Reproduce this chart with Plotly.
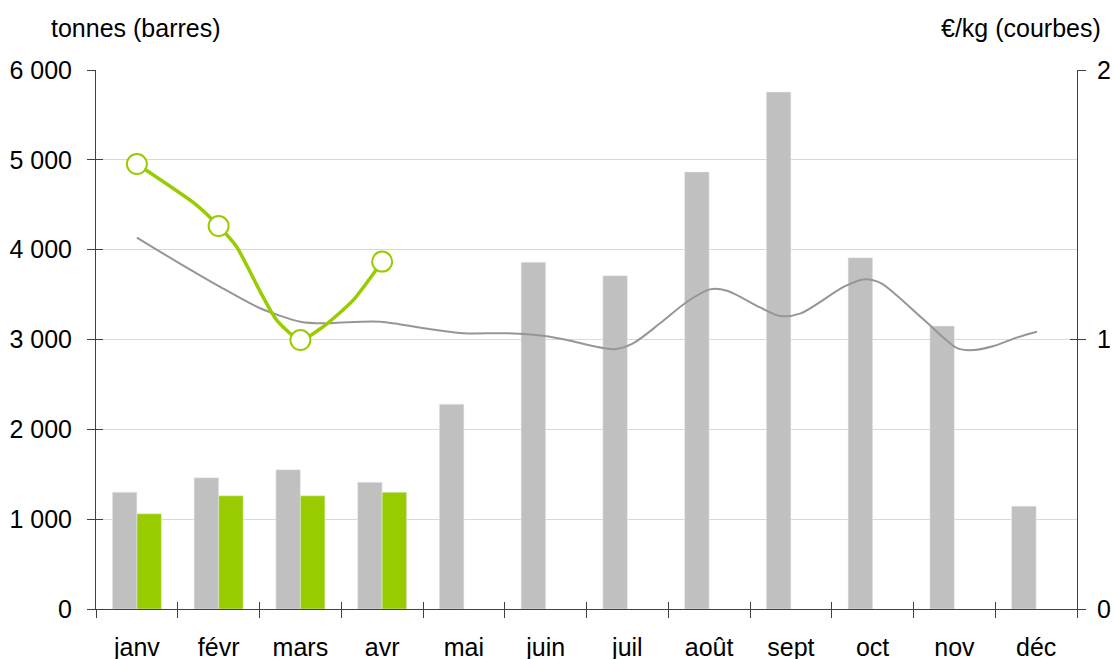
import plotly.graph_objects as go

months = ["janv", "févr", "mars", "avr", "mai", "juin", "juil", "août", "sept", "oct", "nov", "déc"]
tonnes_prev = [1300, 1460, 1550, 1410, 2280, 3860, 3710, 4865, 5755, 3910, 3150, 1145]
tonnes_curr = [1060, 1260, 1260, 1300]

# price curves (€/kg), position in month index units
price_prev_x = [0.0, 0.48, 0.98, 1.5, 2.0, 2.28, 2.49, 2.98, 3.59, 4.0, 4.53, 4.97, 5.26, 5.83,
                6.07, 6.4, 6.73, 7.01, 7.22, 7.63, 7.87, 8.12, 8.65, 8.89, 9.10, 9.63, 10.04,
                10.24, 10.48, 10.77, 11.01]
price_prev_y = [1.378, 1.29, 1.202, 1.117, 1.066, 1.060, 1.063, 1.066, 1.038, 1.023, 1.023, 1.014,
                0.998, 0.964, 0.986, 1.060, 1.140, 1.186, 1.181, 1.118, 1.087, 1.097, 1.196, 1.223,
                1.209, 1.072, 0.967, 0.961, 0.976, 1.008, 1.029]

price_curr_x = [0.0, 0.73, 1.0, 1.22, 1.51, 1.71, 2.0, 2.28, 2.65, 3.0]
price_curr_y = [1.651, 1.499, 1.421, 1.344, 1.177, 1.072, 0.998, 1.048, 1.147, 1.289]

price_curr_month_x = [0, 1, 2, 3]
price_curr_month_y = [1.651, 1.421, 0.998, 1.289]

GREEN = "#99CC00"
GREY_BAR = "#C0C0C0"
GREY_LINE = "#969696"
AXIS = "#404040"
FONT = "Liberation Sans, Arial, sans-serif"
FS = 25

fig = go.Figure()
fig.add_trace(go.Bar(x=months, y=tonnes_prev, marker_color=GREY_BAR, name="prev",
                     xaxis="x", yaxis="y"))
fig.add_trace(go.Bar(x=months[:len(tonnes_curr)], y=tonnes_curr, marker_color=GREEN, name="curr",
                     xaxis="x", yaxis="y"))
fig.add_trace(go.Scatter(x=price_prev_x, y=price_prev_y, mode="lines",
                         line=dict(color=GREY_LINE, width=2, shape="spline", smoothing=0.8),
                         xaxis="x2", yaxis="y2"))
fig.add_trace(go.Scatter(x=price_curr_x, y=price_curr_y, mode="lines",
                         line=dict(color=GREEN, width=3.5, shape="spline", smoothing=0.6),
                         xaxis="x2", yaxis="y2"))
fig.add_trace(go.Scatter(x=price_curr_month_x, y=price_curr_month_y, mode="markers",
                         marker=dict(size=20, color="white", line=dict(color=GREEN, width=2)),
                         xaxis="x2", yaxis="y2"))
# dummy traces so overlay tick axes render
fig.add_trace(go.Scatter(x=[None], y=[None], xaxis="x2", yaxis="y3"))
fig.add_trace(go.Scatter(x=[None], y=[None], xaxis="x2", yaxis="y4"))

n = len(months)
boundaries = [i - 0.5 for i in range(n + 1)]

fig.update_layout(
    width=1113, height=659,
    margin=dict(l=96, r=36, t=70, b=50, autoexpand=False),
    plot_bgcolor="white", paper_bgcolor="white",
    showlegend=False,
    barmode="group", bargap=0.4, bargroupgap=0,
    separators=", ",
    font=dict(family=FONT, size=FS, color="black"),
    xaxis=dict(type="category", categoryorder="array", categoryarray=months,
               tickson="boundaries", ticks="outside", ticklen=8, tickcolor=AXIS,
               showline=True, linecolor=AXIS, linewidth=1, showgrid=False,
               ticklabelstandoff=16, tickfont=dict(size=FS), automargin=False),
    xaxis2=dict(overlaying="x", range=[-0.5, n - 0.5], showticklabels=False,
                tickmode="array", tickvals=boundaries, ticks="inside", ticklen=7,
                tickcolor=AXIS, showgrid=False, showline=False, zeroline=False,
                automargin=False),
    yaxis=dict(range=[0, 6000], dtick=1000, tickformat=",d", showgrid=True,
               gridcolor="#D9D9D9", gridwidth=1, ticks="outside", ticklen=8,
               tickcolor=AXIS, showline=True, linecolor=AXIS, linewidth=1,
               zeroline=False, ticklabelstandoff=10, automargin=False),
    yaxis2=dict(overlaying="y", side="right", range=[0, 2], dtick=1, showgrid=False,
                ticks="outside", ticklen=8, tickcolor=AXIS, showline=True,
                linecolor=AXIS, linewidth=1, zeroline=False, ticklabelstandoff=6,
                automargin=False),
    yaxis3=dict(overlaying="y", side="left", range=[0, 6000], dtick=1000, showgrid=False,
                ticks="inside", ticklen=7, tickcolor=AXIS, showticklabels=False,
                zeroline=False, showline=False, automargin=False),
    yaxis4=dict(overlaying="y", side="right", range=[0, 2], dtick=1, showgrid=False,
                ticks="inside", ticklen=7, tickcolor=AXIS, showticklabels=False,
                zeroline=False, showline=False, automargin=False),
    annotations=[
        dict(text="tonnes (barres)", xref="paper", yref="paper", x=-0.048, y=1.0,
             yshift=42, xanchor="left", yanchor="middle", showarrow=False,
             font=dict(size=FS)),
        dict(text="€/kg (courbes)", xref="paper", yref="paper", x=1.0, y=1.0,
             xshift=26, yshift=42, xanchor="right", yanchor="middle", showarrow=False,
             font=dict(size=FS)),
    ],
)

fig.write_html("out.html", config={"displayModeBar": False})

# remove the browser's default page margin so the figure sits at the window origin
with open("out.html", "r", encoding="utf-8") as f:
    html = f.read()
html = html.replace("<head>", "<head><style>html,body{margin:0;padding:0;overflow:hidden;}</style>", 1)
with open("out.html", "w", encoding="utf-8") as f:
    f.write(html)
